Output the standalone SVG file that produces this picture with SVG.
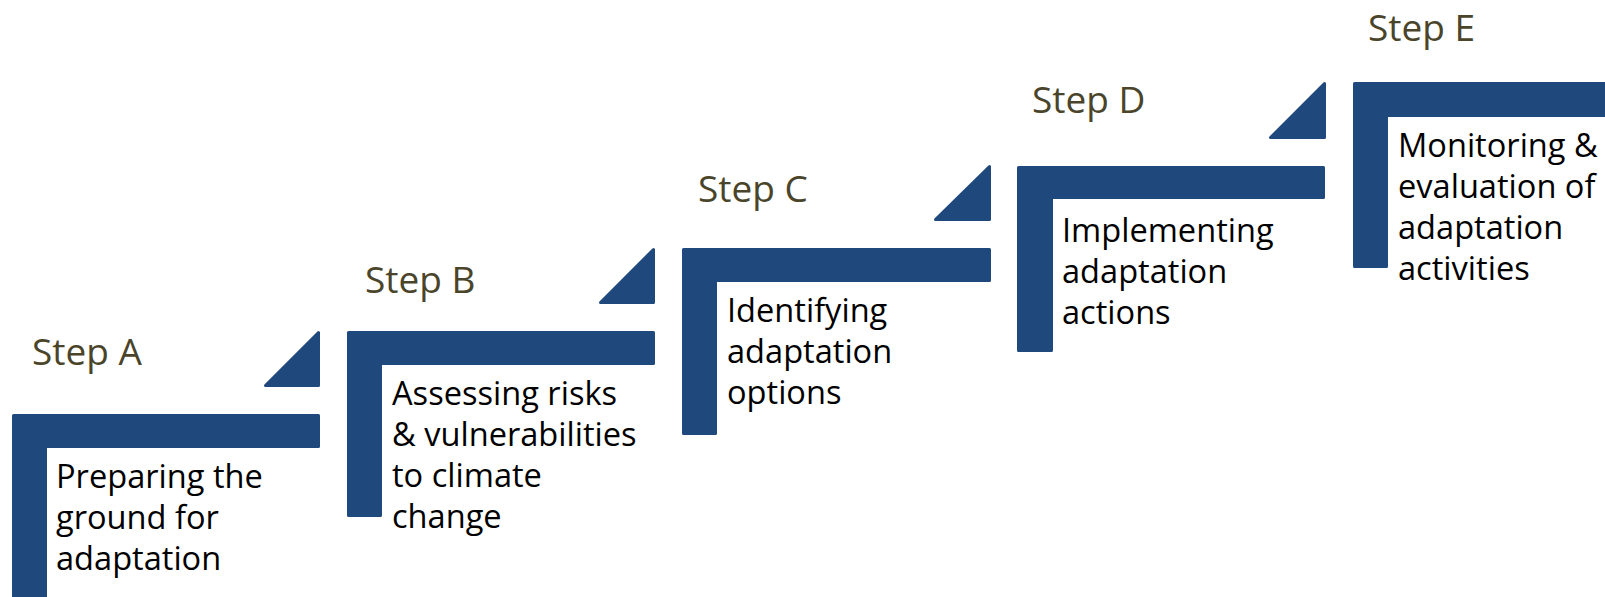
<svg xmlns="http://www.w3.org/2000/svg" width="1605" height="597" viewBox="0 0 1605 597">
<style>
.bar{fill:#1F497D;stroke:#1F497D;stroke-width:3;stroke-linejoin:round}
.step{font-family:"Open Sans","Noto Sans",sans-serif;font-size:37px;fill:#4A452A}
.body{font-family:"Open Sans","Noto Sans",sans-serif;font-size:32.6px;fill:#000}
</style>
<rect width="1605" height="597" fill="#fff"/>
<g id="stepA">
<path class="bar" d="M13.5,415.5 H318.5 V446.5 H45.5 V600 H13.5 Z"/>
<text class="step" x="32" y="365">Step A</text>
<text class="body" x="56" y="488">Preparing the</text>
<text class="body" x="56" y="529">ground for</text>
<text class="body" x="56" y="570">adaptation</text>
</g>
<g id="stepB">
<path class="bar" d="M348.5,332.5 H653.5 V363.5 H380.5 V515.5 H348.5 Z"/>
<text class="step" x="365" y="293">Step B</text>
<text class="body" x="392" y="405">Assessing risks</text>
<text class="body" x="392" y="446">&amp; vulnerabilities</text>
<text class="body" x="392" y="487">to climate</text>
<text class="body" x="392" y="528">change</text>
</g>
<g id="stepC">
<path class="bar" d="M683.5,249.5 H989.5 V280.5 H715.5 V433.5 H683.5 Z"/>
<text class="step" x="698" y="202">Step C</text>
<text class="body" x="727" y="322">Identifying</text>
<text class="body" x="727" y="363">adaptation</text>
<text class="body" x="727" y="404">options</text>
</g>
<g id="stepD">
<path class="bar" d="M1018.5,167.5 H1323.5 V197.5 H1051.5 V350.5 H1018.5 Z"/>
<text class="step" x="1032" y="113">Step D</text>
<text class="body" x="1062" y="242">Implementing</text>
<text class="body" x="1062" y="283">adaptation</text>
<text class="body" x="1062" y="324">actions</text>
</g>
<g id="stepE">
<path class="bar" d="M1354.5,83.5 H1610 V115.5 H1386.5 V266.5 H1354.5 Z"/>
<text class="step" x="1368" y="41">Step E</text>
<text class="body" x="1398" y="157">Monitoring &amp;</text>
<text class="body" x="1398" y="198">evaluation of</text>
<text class="body" x="1398" y="239">adaptation</text>
<text class="body" x="1398" y="280">activities</text>
</g>
<g id="connectors">
<path class="bar" d="M265.5,385.5 L318.5,332.5 V385.5 Z"/>
<path class="bar" d="M600.5,302.5 L653.5,249.5 V302.5 Z"/>
<path class="bar" d="M935.5,219.5 L989.5,166.5 V219.5 Z"/>
<path class="bar" d="M1270.5,137.5 L1324.5,83.5 V137.5 Z"/>
</g>
</svg>
